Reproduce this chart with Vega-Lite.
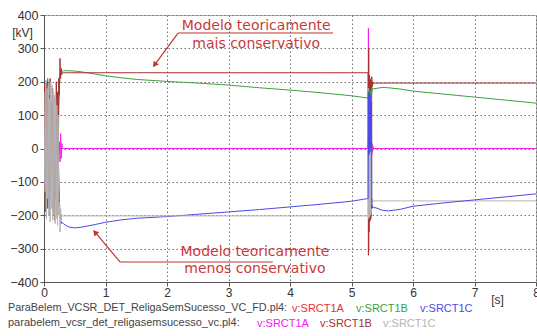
{
  "$schema": "https://vega.github.io/schema/vega-lite/v6.json",
  "width": 492,
  "height": 267,
  "autosize": "none",
  "padding": {"left": 44, "top": 15, "right": 1, "bottom": 54},
  "background": "#ffffff",
  "config": {
    "view": {"stroke": "#b4b4b4", "strokeWidth": 1},
    "axis": {
      "labelFont": "Liberation Sans", "labelFontSize": 12, "labelColor": "#333333", "labelOverlap": false, "labelFlush": false,
      "domainColor": "#555555", "tickColor": "#555555", "tickSize": 4,
      "gridColor": "#707070", "gridDash": [1.5, 2.5], "gridWidth": 1,
      "titleFont": "Liberation Sans", "titleFontSize": 12, "titleFontWeight": "normal", "titleColor": "#333333"
    }
  },
  "datasets": {
    "curves": [
      {"t": 0.00, "A1": 0, "B1": -170, "C1": 170, "A2": 0, "B2": -170, "C2": 170},
      {"t": 0.01, "A1": -120, "B1": 190, "C1": -75, "A2": -118, "B2": 195, "C2": -80},
      {"t": 0.02, "A1": 190, "B1": -60, "C1": -130, "A2": 190, "B2": -60, "C2": -130},
      {"t": 0.03, "A1": -190, "B1": -60, "C1": 200, "A2": -188, "B2": -65, "C2": 205},
      {"t": 0.04, "A1": 115, "B1": 195, "C1": -205, "A2": 118, "B2": 190, "C2": -210},
      {"t": 0.05, "A1": 5, "B1": -175, "C1": 160, "A2": 0, "B2": -180, "C2": 180},
      {"t": 0.06, "A1": -60, "B1": 210, "C1": -100, "A2": -70, "B2": 200, "C2": -150},
      {"t": 0.07, "A1": 100, "B1": -120, "C1": 150, "A2": 110, "B2": -90, "C2": 190},
      {"t": 0.08, "A1": -90, "B1": 150, "C1": -180, "A2": -80, "B2": 160, "C2": -200},
      {"t": 0.09, "A1": 70, "B1": -130, "C1": 120, "A2": 60, "B2": -200, "C2": 150},
      {"t": 0.10, "A1": -50, "B1": 100, "C1": -60, "A2": -40, "B2": 210, "C2": -220},
      {"t": 0.11, "A1": 40, "B1": -110, "C1": 140, "A2": 30, "B2": -120, "C2": 200},
      {"t": 0.12, "A1": -30, "B1": 120, "C1": -90, "A2": -20, "B2": 140, "C2": -180},
      {"t": 0.13, "A1": 30, "B1": -100, "C1": 100, "A2": 25, "B2": -160, "C2": 190},
      {"t": 0.14, "A1": -25, "B1": 60, "C1": -40, "A2": -20, "B2": 180, "C2": -215},
      {"t": 0.15, "A1": 20, "B1": -90, "C1": 80, "A2": 15, "B2": -190, "C2": 170},
      {"t": 0.16, "A1": -20, "B1": 40, "C1": -30, "A2": -15, "B2": 120, "C2": -200},
      {"t": 0.17, "A1": 15, "B1": -120, "C1": 60, "A2": 10, "B2": -215, "C2": 160},
      {"t": 0.18, "A1": -10, "B1": -90, "C1": -20, "A2": -10, "B2": 80, "C2": -225},
      {"t": 0.19, "A1": 10, "B1": -100, "C1": 40, "A2": 10, "B2": -150, "C2": 150},
      {"t": 0.20, "A1": -10, "B1": 20, "C1": -10, "A2": -5, "B2": 200, "C2": -210},
      {"t": 0.21, "A1": 5, "B1": -60, "C1": 30, "A2": 5, "B2": -200, "C2": 130},
      {"t": 0.22, "A1": -5, "B1": 80, "C1": -50, "A2": -5, "B2": 170, "C2": -230},
      {"t": 0.23, "A1": 5, "B1": -40, "C1": 20, "A2": 5, "B2": -180, "C2": 100},
      {"t": 0.24, "A1": -5, "B1": 120, "C1": -80, "A2": -5, "B2": 210, "C2": -200},
      {"t": 0.25, "A1": 0, "B1": 180, "C1": -150, "A2": 20, "B2": 160, "C2": -160},
      {"t": 0.26, "A1": 0, "B1": 220, "C1": -200, "A2": -40, "B2": 270, "C2": -250},
      {"t": 0.27, "A1": 0, "B1": 225, "C1": -215, "A2": 45, "B2": 210, "C2": -180},
      {"t": 0.28, "A1": 0, "B1": 235, "C1": -225, "A2": -30, "B2": 240, "C2": -215},
      {"t": 0.29, "A1": 0, "B1": 230, "C1": -220, "A2": 15, "B2": 222, "C2": -198},
      {"t": 0.30, "A1": 0, "B1": 232, "C1": -222, "A2": 0, "B2": 227, "C2": -202},
      {"t": 0.32, "A1": 0, "B1": 233, "C1": -226, "A2": 0, "B2": 227, "C2": -202},
      {"t": 0.35, "A1": 0, "B1": 233, "C1": -230, "A2": 0, "B2": 227, "C2": -202},
      {"t": 0.40, "A1": 0, "B1": 233, "C1": -235, "A2": 0, "B2": 227, "C2": -202},
      {"t": 0.50, "A1": 0, "B1": 232, "C1": -238, "A2": 0, "B2": 227, "C2": -202},
      {"t": 0.60, "A1": 0, "B1": 230, "C1": -236, "A2": 0, "B2": 227, "C2": -202},
      {"t": 0.80, "A1": 0, "B1": 224, "C1": -229, "A2": 0, "B2": 227, "C2": -202},
      {"t": 1.00, "A1": 0, "B1": 218, "C1": -221, "A2": 0, "B2": 227, "C2": -202},
      {"t": 1.25, "A1": 0, "B1": 212, "C1": -214, "A2": 0, "B2": 227, "C2": -202},
      {"t": 1.50, "A1": 0, "B1": 207, "C1": -209, "A2": 0, "B2": 227, "C2": -202},
      {"t": 2.00, "A1": 0, "B1": 201, "C1": -204, "A2": 0, "B2": 227, "C2": -202},
      {"t": 2.50, "A1": 0, "B1": 196, "C1": -197, "A2": 0, "B2": 227, "C2": -202},
      {"t": 3.00, "A1": 0, "B1": 190, "C1": -190, "A2": 0, "B2": 227, "C2": -202},
      {"t": 3.50, "A1": 0, "B1": 182, "C1": -183, "A2": 0, "B2": 227, "C2": -202},
      {"t": 4.00, "A1": 0, "B1": 175, "C1": -175, "A2": 0, "B2": 227, "C2": -202},
      {"t": 4.50, "A1": 0, "B1": 167, "C1": -167, "A2": 0, "B2": 227, "C2": -202},
      {"t": 5.00, "A1": 0, "B1": 158, "C1": -158, "A2": 0, "B2": 227, "C2": -202},
      {"t": 5.20, "A1": 0, "B1": 153, "C1": -152, "A2": 0, "B2": 227, "C2": -202},
      {"t": 5.265, "A1": 0, "B1": 151, "C1": -150, "A2": 0, "B2": 227, "C2": -202},
      {"t": 5.270, "A1": 0, "B1": 151, "C1": -150, "A2": 0, "B2": 227, "C2": -202},
      {"t": 5.275, "A1": 30, "B1": 170, "C1": 160, "A2": 360, "B2": -320, "C2": 180},
      {"t": 5.280, "A1": -40, "B1": 140, "C1": -20, "A2": -300, "B2": 300, "C2": -210},
      {"t": 5.285, "A1": 30, "B1": 175, "C1": 170, "A2": 200, "B2": -250, "C2": 175},
      {"t": 5.290, "A1": -30, "B1": 145, "C1": -15, "A2": -150, "B2": 220, "C2": -205},
      {"t": 5.295, "A1": 25, "B1": 170, "C1": 165, "A2": 120, "B2": -220, "C2": 170},
      {"t": 5.300, "A1": -25, "B1": 150, "C1": -10, "A2": -90, "B2": 210, "C2": -200},
      {"t": 5.305, "A1": 20, "B1": 175, "C1": 160, "A2": 70, "B2": -215, "C2": 165},
      {"t": 5.310, "A1": -20, "B1": 150, "C1": 0, "A2": -60, "B2": 205, "C2": -200},
      {"t": 5.315, "A1": 15, "B1": 170, "C1": 155, "A2": 40, "B2": -210, "C2": 160},
      {"t": 5.320, "A1": -15, "B1": 160, "C1": 10, "A2": -30, "B2": 200, "C2": -195},
      {"t": 5.325, "A1": 10, "B1": 180, "C1": 140, "A2": 25, "B2": -200, "C2": 150},
      {"t": 5.330, "A1": -10, "B1": 170, "C1": -180, "A2": -20, "B2": 215, "C2": -175},
      {"t": 5.335, "A1": 5, "B1": 180, "C1": -170, "A2": 15, "B2": 185, "C2": -165},
      {"t": 5.340, "A1": 0, "B1": 176, "C1": -178, "A2": -10, "B2": 200, "C2": -150},
      {"t": 5.345, "A1": 0, "B1": 178, "C1": -175, "A2": 8, "B2": 192, "C2": -160},
      {"t": 5.350, "A1": 0, "B1": 178, "C1": -176, "A2": -5, "B2": 198, "C2": -156},
      {"t": 5.355, "A1": 0, "B1": 179, "C1": -176, "A2": 3, "B2": 195, "C2": -158},
      {"t": 5.360, "A1": 0, "B1": 179, "C1": -177, "A2": 0, "B2": 196, "C2": -157},
      {"t": 5.40, "A1": 0, "B1": 180, "C1": -178, "A2": 0, "B2": 196, "C2": -157},
      {"t": 5.50, "A1": 0, "B1": 183, "C1": -185, "A2": 0, "B2": 196, "C2": -157},
      {"t": 5.60, "A1": 0, "B1": 182, "C1": -187, "A2": 0, "B2": 196, "C2": -157},
      {"t": 5.80, "A1": 0, "B1": 178, "C1": -182, "A2": 0, "B2": 196, "C2": -157},
      {"t": 6.00, "A1": 0, "B1": 172, "C1": -173, "A2": 0, "B2": 196, "C2": -157},
      {"t": 6.50, "A1": 0, "B1": 163, "C1": -163, "A2": 0, "B2": 196, "C2": -157},
      {"t": 7.00, "A1": 0, "B1": 154, "C1": -154, "A2": 0, "B2": 196, "C2": -157},
      {"t": 7.50, "A1": 0, "B1": 145, "C1": -145, "A2": 0, "B2": 196, "C2": -157},
      {"t": 8.00, "A1": 0, "B1": 136, "C1": -136, "A2": 0, "B2": 196, "C2": -157}
    ],
    "notes": [
      {"t": 3.45, "v": 367, "txt": "Modelo teoricamente"},
      {"t": 3.45, "v": 313, "txt": "mais conservativo"},
      {"t": 3.43, "v": -310, "txt": "Modelo teoricamente"},
      {"t": 3.43, "v": -361, "txt": "menos conservativo"}
    ],
    "leaders": [
      {"t": 2.18, "v": 346, "t2": 4.70, "v2": 346},
      {"t": 2.18, "v": 346, "t2": 1.78, "v2": 246},
      {"t": 1.236, "v": -340, "t2": 3.72, "v2": -340},
      {"t": 1.236, "v": -340, "t2": 0.81, "v2": -246}
    ],
    "heads": [
      {"t": 1.80, "v": 251, "ang": 216.6},
      {"t": 0.83, "v": -251, "ang": 319.7}
    ]
  },
  "encoding": {
    "x": {"field": "t", "type": "quantitative", "scale": {"domain": [0, 8], "nice": false},
      "axis": {"values": [0, 1, 2, 3, 4, 5, 6, 7, 8], "format": "d", "grid": true, "labelPadding": 1, "labelOverlap": false, "title": "[s]", "titleX": 453, "titleY": 17, "titleBaseline": "middle", "titleAlign": "center"}},
    "y": {"field": "v", "type": "quantitative", "scale": {"domain": [-400, 400], "nice": false, "zero": false},
      "axis": {"values": [-400, -300, -200, -100, 0, 100, 200, 300, 400], "format": "d", "grid": true, "labelPadding": 2, "labelOverlap": false, "labelFontSize": 12.5, "title": "[kV]", "titleAngle": 0, "titleX": -22, "titleY": 17, "titleAlign": "center", "titleBaseline": "middle"}}
  },
  "layer": [
    {
      "data": {"name": "curves"},
      "transform": [
        {"fold": ["A1", "B1", "C1"], "as": ["s", "v"]},
        {"filter": "datum.s == 'A1' || datum.t <= 5.265"}
      ],
      "mark": {"type": "line", "strokeWidth": 1, "clip": true, "interpolate": "linear"},
      "encoding": {
        "stroke": {"field": "s", "type": "nominal",
          "scale": {"domain": ["A1", "B1", "C1"], "range": ["#e63232", "#3f9f3f", "#4a4ae8"]},
          "legend": {
            "orient": "none", "legendX": -36, "legendY": 288, "direction": "horizontal",
            "title": "ParaBelem_VCSR_DET_ReligaSemSucesso_VC_FD.pl4:", "titleOrient": "left", "titleLimit": 500,
            "titleFont": "Liberation Sans", "titleFontSize": 10.8, "titleFontWeight": "normal", "titleColor": "#444444", "titlePadding": -7,
            "labelFont": "Liberation Sans", "labelFontSize": 11, "labelOffset": 0, "labelLimit": 200,
            "symbolSize": 0, "symbolStrokeWidth": 0, "symbolOpacity": 0, "columnPadding": 1,
            "labelExpr": "'v:SRCT1' + slice(datum.label, 0, 1)",
            "encode": {"labels": {"update": {"fill": {"scale": "stroke", "field": "value"}}}}
          }}
      }
    },
    {
      "data": {"name": "curves"},
      "transform": [
        {"fold": ["A2", "B2", "C2"], "as": ["s", "v"]}
      ],
      "mark": {"type": "line", "strokeWidth": 1, "clip": true},
      "encoding": {
        "color": {"field": "s", "type": "nominal",
          "scale": {"domain": ["A2", "B2", "C2"], "range": ["#f020f0", "#a83030", "#b4b4b4"]},
          "legend": {
            "orient": "none", "legendX": -36, "legendY": 303, "direction": "horizontal",
            "title": "parabelem_vcsr_det_religasemsucesso_vc.pl4:", "titleOrient": "left", "titleLimit": 500,
            "titleFont": "Liberation Sans", "titleFontSize": 11, "titleFontWeight": "normal", "titleColor": "#444444", "titlePadding": 6,
            "labelFont": "Liberation Sans", "labelFontSize": 11, "labelOffset": 0, "labelLimit": 200,
            "symbolSize": 0, "symbolStrokeWidth": 0, "symbolOpacity": 0, "columnPadding": -6,
            "labelExpr": "'v:SRCT1' + slice(datum.label, 0, 1)",
            "encode": {"labels": {"update": {"fill": {"scale": "color", "field": "value"}}}}
          }}
      }
    },
    {
      "data": {"name": "curves"},
      "transform": [
        {"fold": ["B1", "C1"], "as": ["s", "v"]},
        {"filter": "datum.t >= 5.265"}
      ],
      "mark": {"type": "line", "strokeWidth": 1, "clip": true},
      "encoding": {
        "stroke": {"field": "s", "type": "nominal"}
      }
    },
    {
      "data": {"name": "leaders"},
      "mark": {"type": "rule", "color": "#c03434", "strokeWidth": 1.2},
      "encoding": {
        "x2": {"field": "t2"},
        "y2": {"field": "v2"}
      }
    },
    {
      "data": {"name": "heads"},
      "mark": {"type": "point", "shape": "triangle-up", "filled": true, "color": "#c03434", "size": 40, "opacity": 1},
      "encoding": {
        "angle": {"field": "ang", "type": "quantitative", "scale": null}
      }
    },
    {
      "data": {"name": "notes"},
      "mark": {"type": "text", "font": "DejaVu Sans", "fontSize": 14, "color": "#c83a3a", "align": "center", "baseline": "middle"},
      "encoding": {
        "text": {"field": "txt", "type": "nominal"}
      }
    }
  ]
}
